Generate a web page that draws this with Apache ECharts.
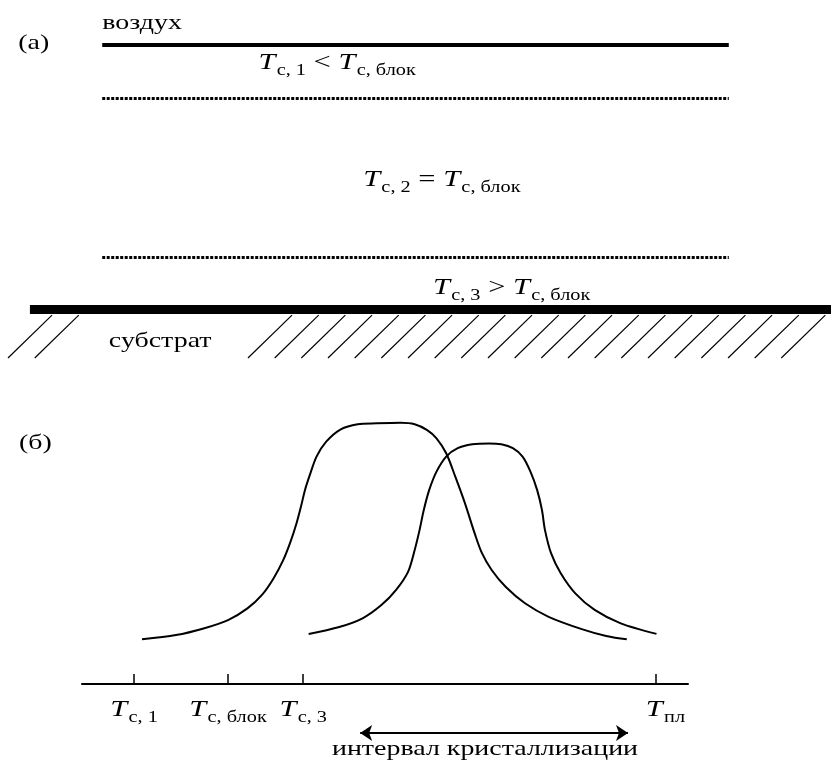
<!DOCTYPE html>
<html>
<head>
<meta charset="utf-8">
<script src="https://cdn.jsdelivr.net/npm/echarts@6/dist/echarts.min.js"></script>
<style>
  html, body { margin: 0; padding: 0; background: #fff; }
  #chart { width: 831px; height: 760px; }
</style>
</head>
<body>
<div id="chart"></div>
<script>
// ---- Panel (а): cross-section of the film on the substrate ----
// x: position across the sketch (0–100), y: height above the substrate surface (film thickness = 100)
const filmSpan = [12.3, 87.7];
const substrateSpan = [3.6, 100];
const airInterface = 100;
const layerBorders = [79.6, 18.5];
const substrateLevel = -1.7;
const hatchFeet = [0.96, 4.18, 29.84, 33.05, 36.26, 39.47, 42.68, 45.89, 49.10, 52.31, 55.51,
                   58.72, 61.93, 65.14, 68.35, 71.56, 74.77, 77.98, 81.19, 84.40, 87.61, 90.82, 94.02];
const hatchRange = [-20.4, -3.9];
const hatchLean = 5.3;

const panelATexts = [
  { x: 2.2,  y: 100.5, text: '(а)' },
  { x: 12.3, y: 108.5, text: 'воздух' },
  { x: 31.1, y: 92.5,  text: '{t|T}{s|c, 1}{o| < }{t|T}{s|c, блок}' },
  { x: 43.7, y: 47.5,  text: '{t|T}{s|c, 2}{o| = }{t|T}{s|c, блок}' },
  { x: 52.1, y: 6.0,   text: '{t|T}{s|c, 3}{o| > }{t|T}{s|c, блок}' },
  { x: 13.1, y: -13.8, text: 'субстрат' }
];

// ---- Panel (б): crystallisation curves on a temperature scale (0–100) ----
const curveLow = [
  [9.9, 14.9], [15.5, 16.3], [20.2, 18.6], [24.1, 21.3], [27.3, 25.2], [29.7, 29.7],
  [31.6, 35.2], [33.2, 41.3], [34.4, 47.4], [35.4, 53.6], [36.2, 59.7], [36.8, 64.7],
  [37.6, 69.7], [38.7, 75.8], [40.3, 80.8], [42.7, 84.9], [45.5, 86.6], [48.6, 86.9],
  [52.6, 87.1], [54.9, 86.6], [56.9, 84.7], [58.5, 81.9], [60.1, 76.9], [61.6, 69.1],
  [63.2, 60.2], [64.8, 50.2], [66.0, 43.6], [67.6, 38.0], [69.9, 32.4], [73.1, 26.9],
  [77.0, 22.4], [82.6, 18.2], [86.5, 16.0], [89.9, 14.9]
];
const curveHigh = [
  [37.4, 16.7], [42.3, 18.9], [46.3, 21.9], [49.4, 26.3], [51.8, 31.3], [53.8, 37.4],
  [54.9, 44.7], [55.7, 51.3], [56.4, 58.0], [57.3, 64.7], [58.5, 70.8], [60.1, 75.8],
  [62.0, 78.6], [64.4, 79.9], [67.2, 80.2], [69.2, 79.9], [71.1, 78.6], [72.7, 75.8],
  [74.0, 70.8], [75.1, 64.7], [75.9, 58.0], [76.4, 51.3], [77.4, 43.6], [79.0, 36.9],
  [81.4, 30.2], [84.6, 24.7], [88.9, 20.2], [94.8, 16.7]
];
const tempTicks = [8.6, 24.1, 36.5, 94.7];
const tempLabels = ['{t|T}{s|c, 1}', '{t|T}{s|c, блок}', '{t|T}{s|c, 3}', '{g| }{t|T}{s|пл}'];
const intervalArrow = [[45.9, -16.3], [90.1, -16.3]];
const panelBTexts = [
  { x: -10.4, y: 80.3,  text: '(б)', align: 'left' },
  { x: 66.5,  y: -21.7, text: 'интервал кристаллизации', align: 'center' }
];

// Typography: a Times-like serif, set slightly wide
const SERIF = 'Liberation Serif';
const WIDEN = 1.27;
const ink = '#000';
const rich = {
  t: { fontFamily: SERIF, fontStyle: 'italic', fontSize: 24, fill: ink, verticalAlign: 'top' },
  s: { fontFamily: SERIF, fontSize: 16, fill: ink, verticalAlign: 'top', padding: [12, 0, 0, 1] },
  o: { fontFamily: SERIF, fontSize: 24, fill: ink, verticalAlign: 'top' },
  g: { fontFamily: SERIF, fontSize: 16, fill: ink, width: 15 }
};

function textItem(pt, text, align, vAlign) {
  return {
    type: 'text', x: pt[0], y: pt[1], scaleX: WIDEN, silent: true,
    style: {
      text: text, rich: rich, fill: ink,
      fontFamily: SERIF, fontSize: 22,
      align: align, verticalAlign: vAlign
    }
  };
}

const hline = (span, y, width, type) => ({
  coords: [[span[0], y], [span[1], y]],
  lineStyle: { width: width, type: type, color: ink }
});
const layerLines = [
  hline(filmSpan, airInterface, 4, 'solid'),
  hline(filmSpan, layerBorders[0], 3, [3, 1.5]),
  hline(filmSpan, layerBorders[1], 3, [3, 1.5]),
  hline(substrateSpan, substrateLevel, 9, 'solid')
];
const hatchLines = hatchFeet.map(x => ({
  coords: [[x, hatchRange[0]], [x + hatchLean, hatchRange[1]]]
}));

const chart = echarts.init(document.getElementById('chart'));
chart.setOption({
  backgroundColor: '#fff',
  animation: false,
  grid: [
    { left: 0, top: 6, width: 831, height: 377, outerBoundsMode: 'none' },
    { left: 82, top: 384, width: 606, height: 300, outerBoundsMode: 'none' }
  ],
  xAxis: [
    { gridIndex: 0, type: 'value', min: 0, max: 100, show: false },
    {
      gridIndex: 1, type: 'value', min: 0, max: 100,
      axisLine: { show: true, onZero: false, lineStyle: { color: ink, width: 2 } },
      axisTick: { show: true, inside: true, length: 10, customValues: tempTicks, lineStyle: { color: ink, width: 1.5 } },
      axisLabel: { show: false },
      splitLine: { show: false }
    }
  ],
  yAxis: [
    { gridIndex: 0, type: 'value', min: -30, max: 115, show: false },
    { gridIndex: 1, type: 'value', min: 0, max: 100, show: false }
  ],
  series: [
    {
      type: 'lines', coordinateSystem: 'cartesian2d', xAxisIndex: 0, yAxisIndex: 0,
      silent: true, clip: false, symbol: 'none',
      lineStyle: { color: ink, width: 3, opacity: 1 },
      data: layerLines
    },
    {
      type: 'lines', coordinateSystem: 'cartesian2d', xAxisIndex: 0, yAxisIndex: 0,
      silent: true, clip: false, symbol: 'none',
      lineStyle: { color: ink, width: 1.2, opacity: 1 },
      data: hatchLines
    },
    {
      type: 'custom', xAxisIndex: 0, yAxisIndex: 0, silent: true,
      data: panelATexts.map(d => [d.x, d.y]),
      renderItem: (params, api) =>
        textItem(api.coord([api.value(0), api.value(1)]), panelATexts[params.dataIndex].text, 'left', 'middle')
    },
    {
      type: 'line', xAxisIndex: 1, yAxisIndex: 1, smooth: 0.3, symbol: 'none', silent: true,
      lineStyle: { color: ink, width: 2 },
      data: curveLow
    },
    {
      type: 'line', xAxisIndex: 1, yAxisIndex: 1, smooth: 0.3, symbol: 'none', silent: true,
      lineStyle: { color: ink, width: 2 },
      data: curveHigh
    },
    {
      // temperature marks under the axis
      type: 'custom', xAxisIndex: 1, yAxisIndex: 1, silent: true,
      data: tempTicks.map(v => [v, 0]),
      renderItem: (params, api) => {
        const p = api.coord([api.value(0), api.value(1)]);
        return textItem([p[0], p[1] + 14], tempLabels[params.dataIndex], 'center', 'top');
      }
    },
    {
      type: 'lines', coordinateSystem: 'cartesian2d', xAxisIndex: 1, yAxisIndex: 1,
      silent: true, clip: false, symbol: ['arrow', 'arrow'], symbolSize: [12, 12],
      lineStyle: { color: ink, width: 2, opacity: 1 },
      data: [{ coords: intervalArrow }]
    },
    {
      type: 'custom', xAxisIndex: 1, yAxisIndex: 1, silent: true,
      data: panelBTexts.map(d => [d.x, d.y]),
      renderItem: (params, api) => {
        const d = panelBTexts[params.dataIndex];
        return textItem(api.coord([api.value(0), api.value(1)]), d.text, d.align, 'middle');
      }
    }
  ]
});
</script>
</body>
</html>
